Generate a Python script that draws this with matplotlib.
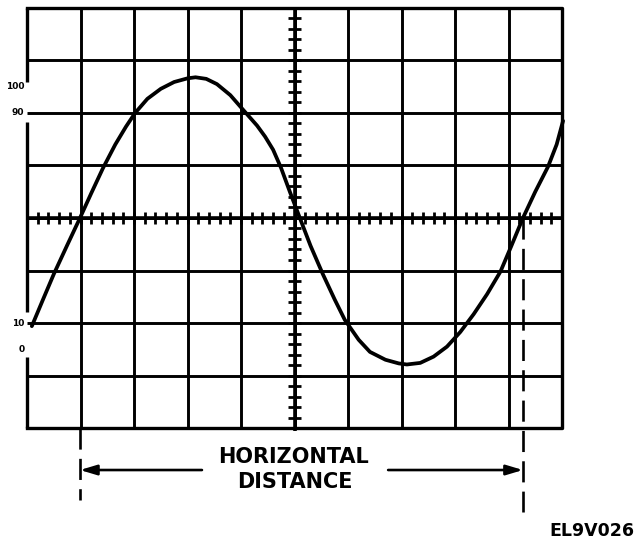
import matplotlib
matplotlib.use("Agg")
import matplotlib.pyplot as plt
import numpy as np

# ---- data (graticule divisions: x 0..10, y -4..4) ----
n_cols = 10
n_rows = 8
curve_x = [0.09, 0.30, 0.50, 0.75, 0.99, 1.20, 1.42, 1.65, 1.85, 2.02, 2.25, 2.50,
           2.75, 3.00, 3.15, 3.35, 3.55, 3.80, 4.04, 4.30, 4.45, 4.60, 4.75, 4.92,
           5.10, 5.30, 5.53, 5.75, 5.94, 6.20, 6.41, 6.70, 6.95, 7.10, 7.35, 7.60,
           7.85, 8.10, 8.35, 8.60, 8.85, 9.05, 9.27, 9.50, 9.74, 9.90, 10.02]
curve_y = [-2.06, -1.55, -1.07, -0.52, 0.00, 0.47, 0.95, 1.40, 1.74, 2.00, 2.27, 2.46,
           2.59, 2.66, 2.68, 2.65, 2.55, 2.34, 2.06, 1.76, 1.55, 1.30, 0.95, 0.48,
           0.00, -0.53, -1.07, -1.55, -1.94, -2.32, -2.55, -2.70, -2.77, -2.79, -2.76, -2.64,
           -2.45, -2.17, -1.83, -1.45, -1.02, -0.54, 0.00, 0.50, 0.98, 1.40, 1.85]
level_pct = [100, 90, 10, 0]
level_labels = ["100", "90", "10", "0"]
measure_start = 0.99
measure_end = 9.27
caption_lines = ["HORIZONTAL", "DISTANCE"]
figure_id = "EL9V026"

fig = plt.figure(figsize=(6.4, 5.42), dpi=100)
ax = fig.add_axes([0, 0, 1, 1])
ax.set_xlim(-0.505, 11.458)
ax.set_ylim(-6.171, 4.152)
ax.axis("off")

K = "black"
grid_lw = 2.1
border_lw = 2.4

# percent level -> division
def pct_to_div(p):
    return (p - 50) / 20.0

lev_y = [pct_to_div(p) for p in level_pct]

# vertical grid lines
for i in range(1, n_cols):
    ax.plot([i, i], [-n_rows / 2, n_rows / 2], color=K, lw=grid_lw, solid_capstyle="butt")
# horizontal grid lines
for j in range(-n_rows // 2 + 1, n_rows // 2):
    ax.plot([0, n_cols], [j, j], color=K, lw=grid_lw, solid_capstyle="butt")

# border (left edge broken where the level labels sit)
ax.plot([0, n_cols, n_cols, 0], [n_rows / 2, n_rows / 2, -n_rows / 2, -n_rows / 2],
        color=K, lw=border_lw, solid_joinstyle="round")
top_gap = (min(lev_y[0], lev_y[1]) - 0.17, max(lev_y[0], lev_y[1]) + 0.09)
bot_gap = (min(lev_y[2], lev_y[3]) - 0.15, max(lev_y[2], lev_y[3]) + 0.21)
ax.plot([0, 0], [n_rows / 2, top_gap[1]], color=K, lw=border_lw, solid_capstyle="butt")
ax.plot([0, 0], [top_gap[0], bot_gap[1]], color=K, lw=border_lw, solid_capstyle="butt")
ax.plot([0, 0], [bot_gap[0], -n_rows / 2], color=K, lw=border_lw, solid_capstyle="butt")

# centre axes, thicker, with minor ticks
ax.plot([0, n_cols], [0, 0], color=K, lw=2.6, solid_capstyle="butt")
ax.plot([n_cols / 2, n_cols / 2], [-n_rows / 2 - 0.05, n_rows / 2], color=K, lw=2.6,
        solid_capstyle="butt")
minor_x = np.arange(0, n_cols + 0.001, 0.2)
ax.vlines(minor_x, -0.11, 0.11, color=K, lw=2.0)
minor_y = np.arange(-n_rows / 2 + 0.2, n_rows / 2 - 0.001, 0.2)
ax.hlines(minor_y, n_cols / 2 - 0.12, n_cols / 2 + 0.12, color=K, lw=2.0)

# the waveform
ax.plot(curve_x, curve_y, color=K, lw=2.7, solid_capstyle="round", solid_joinstyle="round")

# level labels
for yv, lab in zip(lev_y, level_labels):
    ax.text(-0.05, yv, lab, ha="right", va="center", fontsize=6.5,
            fontweight="bold", family="DejaVu Sans")

# dashed measurement lines
ax.plot([measure_start, measure_start], [-n_rows / 2, -5.37], color=K, lw=1.9,
        dashes=(8, 3.5))
ax.plot([measure_end, measure_end], [0, -5.6], color=K, lw=1.9, dashes=(8, 3.5))

# arrows
arrow_y = -4.8
ap = dict(arrowstyle="-|>,head_length=1.0,head_width=0.3", color=K, lw=1.9,
          shrinkA=0, shrinkB=0, mutation_scale=10)
ax.annotate("", xy=(measure_start, arrow_y), xytext=(3.27, arrow_y), arrowprops=ap)
ax.annotate("", xy=(measure_end, arrow_y), xytext=(6.75, arrow_y), arrowprops=ap)

# caption
ax.text(4.98, -4.56, caption_lines[0], ha="center", va="center", fontsize=15,
        fontweight="bold", family="DejaVu Sans")
ax.text(5.0, -5.03, caption_lines[1], ha="center", va="center", fontsize=15,
        fontweight="bold", family="DejaVu Sans")
ax.text(10.56, -5.96, figure_id, ha="center", va="center", fontsize=12.5,
        fontweight="bold", family="DejaVu Sans")

fig.savefig("out.png", dpi=100, facecolor="white")
